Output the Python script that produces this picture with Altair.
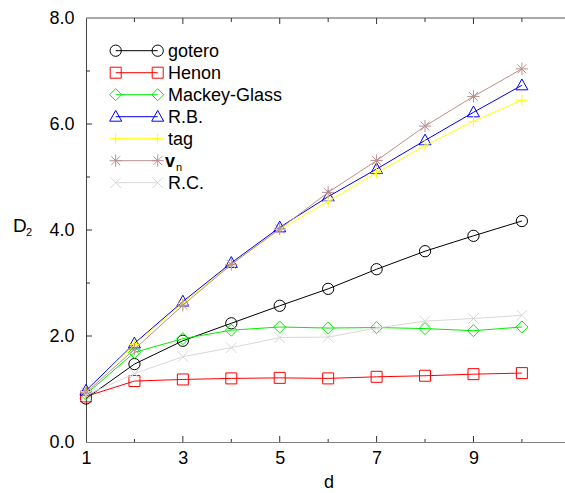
import altair as alt
import pandas as pd

# ---------------- data ----------------
d_values = list(range(1, 11))
series_names = ["gotero", "Henon", "Mackey-Glass", "R.B.", "tag", "vn", "R.C."]
gotero = [0.82, 1.47, 1.91, 2.24, 2.57, 2.89, 3.26, 3.60, 3.89, 4.17]
henon = [0.86, 1.15, 1.18, 1.20, 1.21, 1.20, 1.23, 1.25, 1.28, 1.30]
mackey_glass = [0.90, 1.69, 1.95, 2.11, 2.17, 2.15, 2.16, 2.14, 2.10, 2.17]
rb = [0.97, 1.86, 2.65, 3.38, 4.05, 4.63, 5.15, 5.69, 6.22, 6.73]
tag = [0.95, 1.84, 2.62, 3.35, 4.01, 4.54, 5.08, 5.59, 6.05, 6.45]
vn = [0.93, 1.75, 2.58, 3.35, 4.02, 4.71, 5.31, 5.96, 6.52, 7.04]
rc = [0.88, 1.29, 1.61, 1.78, 1.97, 1.98, 2.15, 2.28, 2.33, 2.39]
series_values = [gotero, henon, mackey_glass, rb, tag, vn, rc]

x_tick_labels = [1, 3, 5, 7, 9]
y_tick_labels = [0, 2, 4, 6, 8]
x_minor = list(range(1, 11))
y_minor = list(range(0, 9))

# ---------------- styles ----------------
colors = ["#000000", "#ff0000", "#00ee00", "#0000ff", "#ffff00", "#bc8f8f", "#d8d8d8"]
PLUS = "M-1,0L1,0M0,-1L0,1"
STAR = "M-1,0L1,0M0,-1L0,1M-0.72,-0.72L0.72,0.72M-0.72,0.72L0.72,-0.72"
XMARK = "M-1,-1L1,1M-1,1L1,-1"
TRI = "M0,-1.05L1,0.75L-1,0.75Z"
shapes = ["circle", "square", "diamond", TRI, PLUS, STAR, XMARK]
sizes = [127, 121, 144, 144, 130, 150, 110]

FONT = "Liberation Sans"
W, H = 479, 424
LEFT, TOP = 86, 18
XMIN, XMAX = 1, 10.89
YMIN, YMAX = 0, 8


def px_x(px):
    return XMIN + (px - LEFT) * (XMAX - XMIN) / W


def px_y(py):
    return YMAX - (py - TOP) * (YMAX - YMIN) / H


ux = (XMAX - XMIN) / W  # data units per pixel
uy = (YMAX - YMIN) / H

xs = alt.Scale(domain=[XMIN, XMAX], nice=False, zero=False)
ys = alt.Scale(domain=[YMIN, YMAX], nice=False, zero=False)
xaxis = alt.Axis(values=x_tick_labels, format="d", labelFont=FONT, labelFontSize=18,
                 labelColor="black", ticks=False, tickSize=0, labelPadding=7,
                 labelFlush=False, labelOverlap=False,
                 domainColor="#808080", domainWidth=1, grid=False, title=None)
yaxis = alt.Axis(values=y_tick_labels, format=".1f", labelFont=FONT, labelFontSize=18,
                 labelColor="black", ticks=False, tickSize=0, labelPadding=12,
                 labelFlush=False, labelOverlap=False,
                 domainColor="#444444", domainWidth=1, grid=False, title=None)


def X(f):
    return alt.X(f, type="quantitative", scale=xs, axis=xaxis)


def Y(f):
    return alt.Y(f, type="quantitative", scale=ys, axis=yaxis)


layers = []

# ---------- frame and inward ticks ----------
top_df = pd.DataFrame({"x1": [XMIN], "x2": [XMAX], "y": [YMAX]})
layers.append(alt.Chart(top_df).mark_rule(color="#555555", strokeWidth=1).encode(
    x=X("x1"), x2="x2", y=Y("y")))

bt = pd.DataFrame({"x": x_minor[1:]})
bt["len"] = [6 if v % 2 == 1 else 3 for v in bt["x"]]
bt["y"] = YMIN
bt["y2"] = YMIN + bt["len"] * uy
layers.append(alt.Chart(bt).mark_rule(color="#333333", strokeWidth=1).encode(
    x=X("x"), y=Y("y"), y2="y2"))

tt = pd.DataFrame({"x": x_minor[1:]})
tt["len"] = [6 if v % 2 == 1 else 4 for v in tt["x"]]
tt["y"] = YMAX
tt["y2"] = YMAX - tt["len"] * uy
layers.append(alt.Chart(tt).mark_rule(color="#333333", strokeWidth=1).encode(
    x=X("x"), y=Y("y"), y2="y2"))

lt = pd.DataFrame({"y": y_minor[1:-1]})
lt["len"] = [6 if v % 2 == 0 else 4 for v in lt["y"]]
lt["x"] = XMIN
lt["x2"] = XMIN + lt["len"] * ux
layers.append(alt.Chart(lt).mark_rule(color="#333333", strokeWidth=1).encode(
    x=X("x"), x2="x2", y=Y("y")))

# ---------- series ----------
for name, vals, c, s, sz in zip(series_names, series_values, colors, shapes, sizes):
    df = pd.DataFrame({"d": d_values, "v": vals, "series": name})
    layers.append(alt.Chart(df).mark_line(color=c, strokeWidth=1).encode(
        x=X("d"), y=Y("v")))
    layers.append(alt.Chart(df).mark_point(shape=s, size=sz, filled=False, color=c,
                                           strokeWidth=1, opacity=1).encode(
        x=X("d"), y=Y("v")))

# ---------- legend ----------
LX1, LX2, LTX = px_x(115.7), px_x(157.7), px_x(168)
for i, (name, c, s, sz) in enumerate(zip(series_names, colors, shapes, sizes)):
    ly = px_y(50.7 + 22 * i)
    seg = pd.DataFrame({"x1": [LX1], "x2": [LX2], "y": [ly]})
    layers.append(alt.Chart(seg).mark_rule(color=c, strokeWidth=1).encode(
        x=X("x1"), x2="x2", y=Y("y")))
    ends = pd.DataFrame({"x": [LX1, LX2], "y": [ly, ly]})
    layers.append(alt.Chart(ends).mark_point(shape=s, size=sz, filled=False, color=c,
                                             strokeWidth=1, opacity=1).encode(
        x=X("x"), y=Y("y")))
    if name == "vn":
        t1 = pd.DataFrame({"x": [LTX - 3 * ux], "y": [ly], "t": ["v"]})
        layers.append(alt.Chart(t1).mark_text(align="left", baseline="alphabetic", dy=6.5,
                                              font=FONT, fontSize=18, fontWeight="bold",
                                              color="black").encode(
            x=X("x"), y=Y("y"), text="t:N"))
        t2 = pd.DataFrame({"x": [px_x(176)], "y": [ly], "t": ["n"]})
        layers.append(alt.Chart(t2).mark_text(align="left", baseline="alphabetic", dy=10,
                                              font=FONT, fontSize=11,
                                              color="black").encode(
            x=X("x"), y=Y("y"), text="t:N"))
    else:
        t = pd.DataFrame({"x": [LTX], "y": [ly], "t": [name]})
        layers.append(alt.Chart(t).mark_text(align="left", baseline="alphabetic", dy=6.5,
                                             font=FONT, fontSize=18,
                                             color="black").encode(
            x=X("x"), y=Y("y"), text="t:N"))

# ---------- axis titles ----------
one = pd.DataFrame({"t": ["D"]})
layers.append(alt.Chart(one).mark_text(align="left", baseline="alphabetic", font=FONT,
                                       fontSize=19, color="black").encode(
    x=alt.value(13 - LEFT), y=alt.value(232 - TOP), text="t:N"))
two = pd.DataFrame({"t": ["2"]})
layers.append(alt.Chart(two).mark_text(align="left", baseline="alphabetic", font=FONT,
                                       fontSize=11, color="black").encode(
    x=alt.value(26 - LEFT), y=alt.value(236 - TOP), text="t:N"))
dd = pd.DataFrame({"t": ["d"]})
layers.append(alt.Chart(dd).mark_text(align="center", baseline="alphabetic", font=FONT,
                                      fontSize=18, color="black").encode(
    x=alt.value(329 - LEFT), y=alt.value(488 - TOP), text="t:N"))

chart = alt.layer(*layers).properties(
    width=W, height=H,
    padding={"left": LEFT, "top": TOP, "right": 0, "bottom": 493 - TOP - H},
    autosize="none",
    background="white",
).configure_view(strokeWidth=0)

chart.save("out.html", embed_options={"renderer": "svg", "actions": False})
